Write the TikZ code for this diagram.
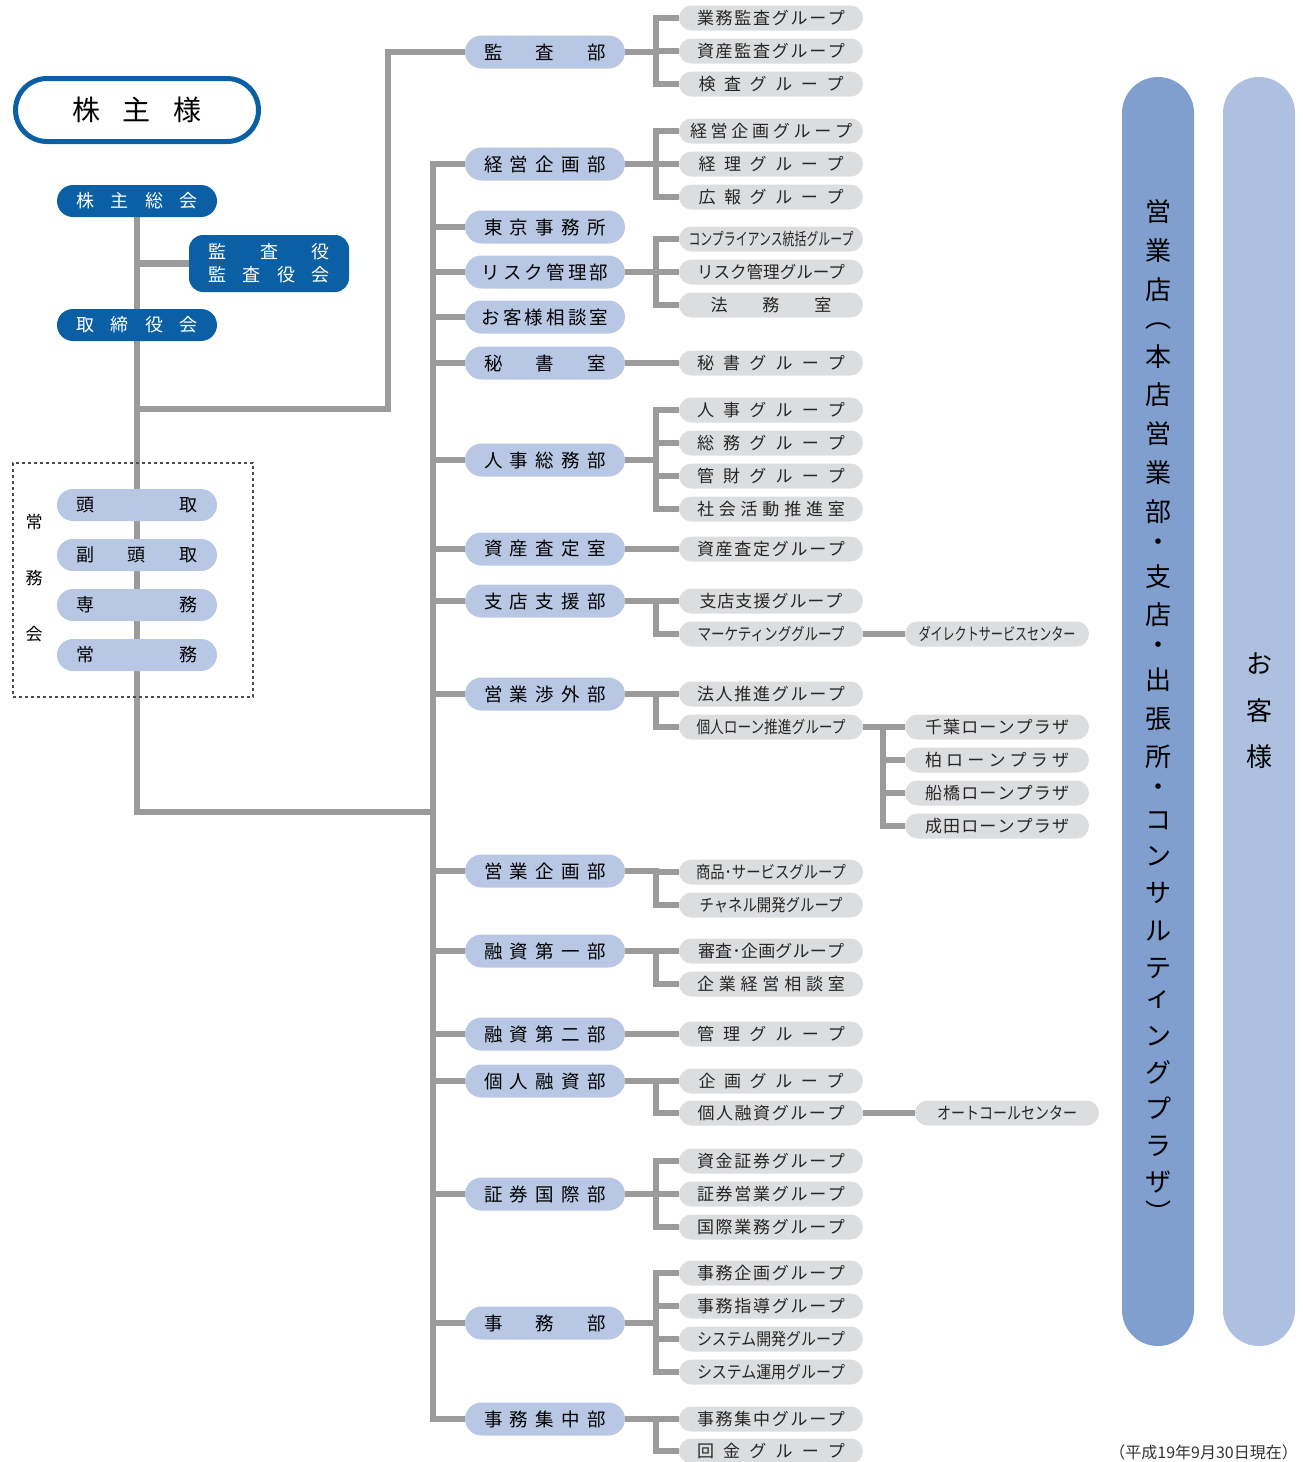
\documentclass[tikz,border=0pt]{standalone}
\usepackage{fontspec}
\setmainfont{Noto Sans CJK JP}
\usepackage{graphicx}
\usetikzlibrary{positioning,backgrounds,calc}
\definecolor{mainblue}{HTML}{0B5FA5}
\definecolor{deptblue}{HTML}{B8C7E3}
\definecolor{grpgrey}{HTML}{DCDDDF}
\definecolor{lngrey}{HTML}{9B9B9B}
\definecolor{barA}{HTML}{809ECE}
\definecolor{barB}{HTML}{AEC0DF}
\definecolor{txtgrey}{HTML}{333333}
% spread the letters of #2 over #1 pt, or squeeze them if they do not fit
\makeatletter
\def\spr@ad#1#2{#1\ifx\relax#2\expandafter\@gobble\else\hfill\expandafter\spr@ad\fi#2}
\newcommand\spr[2]{\makebox[#1pt]{\spr@ad#2\relax}}
\newsavebox\fitbox
\newcommand\fit[2]{\sbox\fitbox{#2}%
  \ifdim\wd\fitbox>#1pt \scalebox{\fpeval{#1/\strip@pt\wd\fitbox}}[1]{\usebox\fitbox}%
  \else\spr{#1}{#2}\fi}
\makeatother
\newcommand\gl[2][148]{\fit{#1}{#2}}
\newcommand\dl[2][122]{\fit{#1}{#2}}
\tikzset{
  conn/.style={draw=lngrey,line width=6.5pt},
  dept/.style={fill=deptblue,minimum width=160pt,minimum height=33pt,
               rounded corners=16.5pt,inner sep=0pt,font=\fontsize{18.5}{20}\selectfont},
  grp/.style={fill=grpgrey,minimum width=184pt,minimum height=25pt,
              rounded corners=12.5pt,inner sep=0pt,text=black!85,
              font=\fontsize{17}{18}\selectfont},
  exec/.style={fill=deptblue,minimum width=160pt,minimum height=32pt,
               rounded corners=16pt,inner sep=0pt,font=\fontsize{18}{20}\selectfont},
  topbox/.style={fill=mainblue,text=white,minimum width=160pt,minimum height=32pt,
                 rounded corners=16pt,inner sep=0pt,font=\fontsize{18}{20}\selectfont},
  bar/.style={minimum width=72pt,minimum height=1269pt,rounded corners=36pt,inner sep=0pt},
  vtxt/.style={font=\fontsize{26}{26}\selectfont,inner sep=0pt},
}
\begin{document}
\begin{tikzpicture}[x=1pt,y=-1pt]
\useasboundingbox (0,0) rectangle (1303,1462);

% =======================  LEFT: shareholders and board  =====================
\node[draw=mainblue,line width=5pt,minimum width=243pt,minimum height=63pt,
      rounded corners=31.5pt,font=\fontsize{28}{30}\selectfont] (kabunushi) at (137,110)
     {\spr{129}{株主様}};
\node[topbox] (soukai) at (137,201) {\spr{121}{株主総会}};
\node[topbox,minimum height=57pt,rounded corners=14pt,align=center,
      font=\fontsize{18}{23}\selectfont] (kansayaku) at (269,263.5)
     {\spr{121}{監査役}\\\spr{121}{監査役会}};
\node[topbox] (torishimari) at (137,325) {\spr{121}{取締役会}};

\node[draw=black!70,dash pattern=on 3pt off 3pt,line width=1.2pt,
      minimum width=240pt,minimum height=234pt] (jomukai) at (133,580) {};
\node[exec] (todori) at (137,505) {\spr{121}{頭取}};
\node[exec] (fukutodori) at (137,555) {\spr{121}{副頭取}};
\node[exec] (senmu) at (137,605) {\spr{121}{専務}};
\node[exec] (jomu) at (137,655) {\spr{121}{常務}};
\node[font=\fontsize{17}{18}\selectfont] (jk1) at (34,522) {常};
\node[font=\fontsize{17}{18}\selectfont] (jk2) at (34,578) {務};
\node[font=\fontsize{17}{18}\selectfont] (jk3) at (34,634) {会};

\coordinate (kb) at (137,409);
\coordinate (kc) at (388,409);
\coordinate (tkr) at (433,812);

% =======================  MIDDLE: departments  =====================
\node[dept] (kansa)    at (545,52)   {\dl{監査部}};
\node[dept] (keiei)    at (545,164)  {\dl{経営企画部}};
\node[dept] (tokyo)    at (545,227)  {\dl{東京事務所}};
\node[dept] (risk)     at (545,272)  {\dl[127]{リスク管理部}};
\node[dept] (sodan)    at (545,317)  {\dl[127]{お客様相談室}};
\node[dept] (hisho)    at (545,363)  {\dl{秘書室}};
\node[dept] (jinji)    at (545,460)  {\dl{人事総務部}};
\node[dept] (satei)    at (545,549)  {\dl{資産査定室}};
\node[dept] (shiten)   at (545,601)  {\dl{支店支援部}};
\node[dept] (shogai)   at (545,694)  {\dl{営業渉外部}};
\node[dept] (eikikaku) at (545,871)  {\dl{営業企画部}};
\node[dept] (yushi1)   at (545,951)  {\dl{融資第一部}};
\node[dept] (yushi2)   at (545,1034) {\dl{融資第二部}};
\node[dept] (kojin)    at (545,1081) {\dl{個人融資部}};
\node[dept] (shoken)   at (545,1194) {\dl{証券国際部}};
\node[dept] (jimu)     at (545,1323) {\dl{事務部}};
\node[dept] (shuchu)   at (545,1419) {\dl{事務集中部}};

% =======================  groups  =====================
\node[grp] (g-gyokan)  at (771,18)   {\gl{業務監査グループ}};
\node[grp] (g-shikan)  at (771,51)   {\gl{資産監査グループ}};
\node[grp] (g-kensa)   at (771,84)   {\gl[145]{検査グループ}};
\node[grp] (g-keikiku) at (771,131)  {\gl[162]{経営企画グループ}};
\node[grp] (g-keiri)   at (771,164)  {\gl[145]{経理グループ}};
\node[grp] (g-koho)    at (771,197)  {\gl[145]{広報グループ}};
\node[grp] (g-comp)    at (771,239)  {\gl[165]{コンプライアンス統括グループ}};
\node[grp] (g-risk)    at (771,272)  {\gl{リスク管理グループ}};
\node[grp] (g-homu)    at (771,305)  {\gl[121]{法務室}};
\node[grp] (g-hisho)   at (771,363)  {\gl{秘書グループ}};
\node[grp] (g-jinji)   at (771,410)  {\gl{人事グループ}};
\node[grp] (g-somu)    at (771,443)  {\gl{総務グループ}};
\node[grp] (g-kanzai)  at (771,476)  {\gl{管財グループ}};
\node[grp] (g-shakai)  at (771,509)  {\gl{社会活動推進室}};
\node[grp] (g-satei)   at (771,549)  {\gl{資産査定グループ}};
\node[grp] (g-shiten)  at (771,601)  {\gl[143]{支店支援グループ}};
\node[grp] (g-mkt)     at (771,634)  {\gl[147]{マーケティンググループ}};
\node[grp] (g-hojin)   at (771,694)  {\gl{法人推進グループ}};
\node[grp] (g-loan)    at (771,727)  {\gl[149]{個人ローン推進グループ}};
\node[grp] (g-shohin)  at (771,872)  {\gl[150]{商品･サービスグループ}};
\node[grp] (g-channel) at (771,905)  {\gl[143]{チャネル開発グループ}};
\node[grp] (g-shinsa)  at (771,951)  {\gl[146]{審査･企画グループ}};
\node[grp] (g-kigyo)   at (771,984)  {\gl{企業経営相談室}};
\node[grp] (g-kanri)   at (771,1034) {\gl{管理グループ}};
\node[grp] (g-kikaku)  at (771,1081) {\gl[145]{企画グループ}};
\node[grp] (g-kojin)   at (771,1113) {\gl[147]{個人融資グループ}};
\node[grp] (g-shikin)  at (771,1161) {\gl{資金証券グループ}};
\node[grp] (g-shoei)   at (771,1194) {\gl{証券営業グループ}};
\node[grp] (g-kokusai) at (771,1227) {\gl{国際業務グループ}};
\node[grp] (g-jkikaku) at (771,1273) {\gl{事務企画グループ}};
\node[grp] (g-jshido)  at (771,1306) {\gl{事務指導グループ}};
\node[grp] (g-syskai)  at (771,1339) {\gl{システム開発グループ}};
\node[grp] (g-sysun)   at (771,1372) {\gl{システム運用グループ}};
\node[grp] (g-jshuchu) at (771,1419) {\gl{事務集中グループ}};
\node[grp] (g-kaikin)  at (771,1451) {\gl{回金グループ}};

\node[grp] (direct)   at (997,634)  {\gl[157]{ダイレクトサービスセンター}};
\node[grp] (chiba)    at (997,727)  {\gl[144]{千葉ローンプラザ}};
\node[grp] (kashiwa)  at (997,760)  {\gl[144]{柏ローンプラザ}};
\node[grp] (funabashi) at (997,793) {\gl[144]{船橋ローンプラザ}};
\node[grp] (narita)   at (997,826)  {\gl[144]{成田ローンプラザ}};
\node[grp] (autocall) at (1007,1113) {\gl[140]{オートコールセンター}};

% =======================  RIGHT: branches and customers  =====================
\node[bar,fill=barA] (eigyoten) at (1158,711.5) {};
\node[bar,fill=barB] (kyaku) at (1259,711.5) {};
\foreach \c/\yy [count=\i] in {営/212,業/251,店/290,︵/326,本/357,店/395,営/434,業/473,
    部/512,・/545,支/577,店/615,・/648,出/680,張/719,所/757,・/790,コ/821,ン/856,
    サ/893,ル/931,テ/968,ィ/1000,ン/1036,グ/1072,プ/1108,ラ/1146,ザ/1182,︶/1212}
  \node[vtxt] (v\i) at (1158,\yy) {\c};
\node[vtxt] (k1) at (1259,664) {お};
\node[vtxt] (k2) at (1259,711) {客};
\node[vtxt] (k3) at (1259,757) {様};

\node[anchor=east,text=txtgrey,font=\fontsize{16}{18}\selectfont,inner sep=0pt]
     (note) at (1298,1452) {（平成19年9月30日現在）};

% =======================  connectors  =====================
\begin{scope}[on background layer]
  \draw[conn] (soukai.south) |- (tkr);
  \draw[conn] (kansayaku.west) -- (kansayaku.west -| soukai);
  \draw[conn] (kb) -- (kc) |- (kansa.west);
  \draw[conn] (keiei.west) -| (tkr);
  \draw[conn] (shuchu.west) -| (tkr);
  \foreach \d in {tokyo,risk,sodan,hisho,jinji,satei,shiten,shogai,
                  eikikaku,yushi1,yushi2,kojin,shoken,jimu}
    \draw[conn] (\d.west) -- (\d.west -| tkr);
  \foreach \d/\g in {kansa/g-gyokan,kansa/g-shikan,kansa/g-kensa,
      keiei/g-keikiku,keiei/g-keiri,keiei/g-koho,
      risk/g-comp,risk/g-risk,risk/g-homu,hisho/g-hisho,
      jinji/g-jinji,jinji/g-somu,jinji/g-kanzai,jinji/g-shakai,satei/g-satei,
      shiten/g-shiten,shiten/g-mkt,shogai/g-hojin,shogai/g-loan,
      eikikaku/g-shohin,eikikaku/g-channel,yushi1/g-shinsa,yushi1/g-kigyo,
      yushi2/g-kanri,kojin/g-kikaku,kojin/g-kojin,
      shoken/g-shikin,shoken/g-shoei,shoken/g-kokusai,
      jimu/g-jkikaku,jimu/g-jshido,jimu/g-syskai,jimu/g-sysun,
      shuchu/g-jshuchu,shuchu/g-kaikin}
    \draw[conn] (\d.east) -- ++(31,0) |- (\g.west);
  \foreach \p in {chiba,kashiwa,funabashi,narita}
    \draw[conn] (g-loan.east) -- ++(20,0) |- (\p.west);
  \draw[conn] (g-mkt.east) -- (direct.west);
  \draw[conn] (g-kojin.east) -- (autocall.west);
\end{scope}

\end{tikzpicture}
\end{document}
